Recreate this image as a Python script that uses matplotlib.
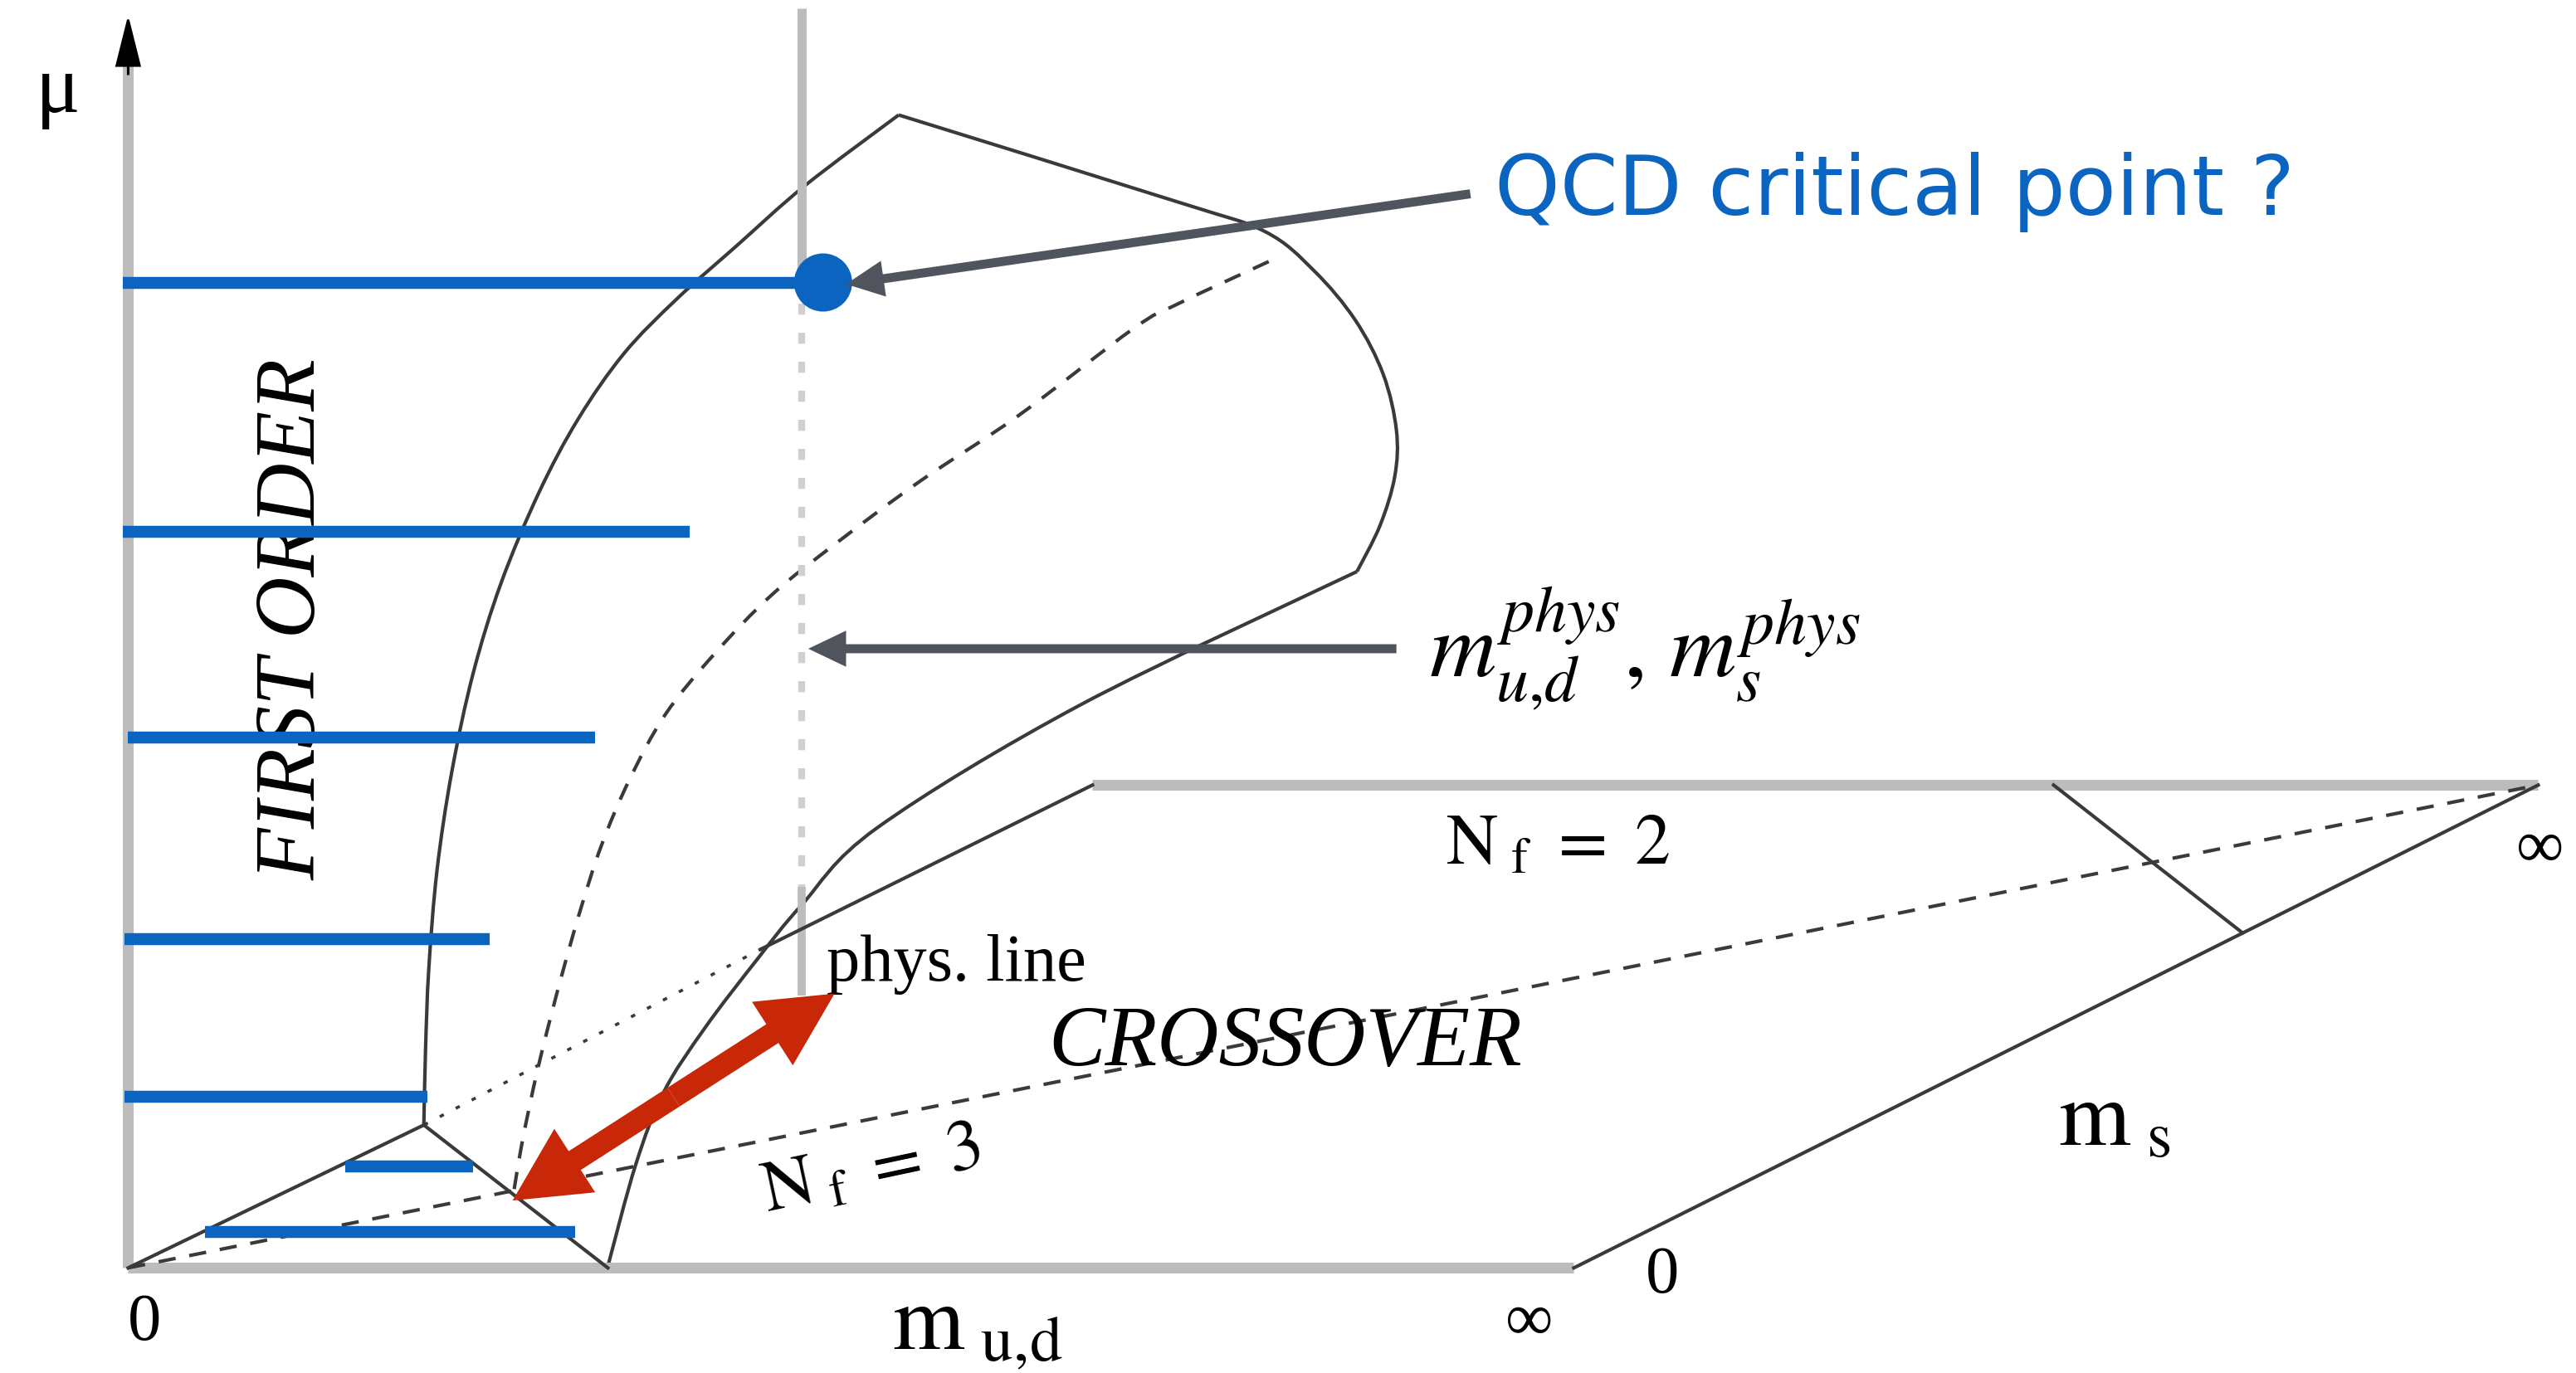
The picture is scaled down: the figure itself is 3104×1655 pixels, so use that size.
import matplotlib.pyplot as plt
from matplotlib.patches import FancyArrow, Circle, PathPatch
from matplotlib.path import Path

plt.rcParams['mathtext.fontset'] = 'stix'
SERIF = ['Liberation Serif', 'DejaVu Serif']

### diagram geometry (units of the 1568x836 canvas, y pointing down) ###
origin = (78, 772)
mud_inf = (958, 772)
ms_inf = (1545, 478)
ms_far = (665, 478)          # m_ud = 0, m_s = inf corner
mu_top = 12

tri_apex = (258, 685)
tri_right = (370, 772)
hidden_end = (463, 578)      # base-plane edge reappears here

# outer surface, left boundary (bottom -> top)
left_x = [258, 259, 261, 266, 275, 288, 305, 328, 352, 380, 412, 448, 490, 547]
left_y = [685, 640, 590, 530, 470, 410, 355, 300, 255, 215, 182, 150, 113, 70]
# outer surface, top / right boundary
top_x = [547, 717, 770, 800, 825, 842, 850, 849, 840, 826]
top_y = [70, 123, 141, 165, 195, 228, 262, 290, 320, 348]
# inner boundary (top right -> bottom)
inner_x = [826, 658, 534, 488, 461, 429, 404, 387, 370]
inner_y = [348, 429, 504, 551, 584, 626, 665, 709, 771]
# dashed critical curve
crit_x = [313, 317, 322, 328, 335, 343, 353, 366, 383, 405, 435, 470, 510, 560, 620, 690, 717, 775]
crit_y = [724, 700, 675, 648, 620, 590, 555, 515, 475, 435, 398, 362, 330, 293, 253, 200, 185, 158]
# tricritical line in the m_s plane
tric_x = [1250, 1365]
tric_y = [478, 568]

phys_x = 488
phys_bottom = 606
crit_point = (501, 172)

# hand-drawn blue strokes
stroke_y = [172, 324, 449, 572, 668, 710, 750]
stroke_x0 = [75, 75, 78, 76, 76, 210, 125]
stroke_x1 = [495, 420, 362, 298, 260, 288, 350]

GRAY = '#bcbcbc'
INK = '#3a3a3a'
BLUE = '#0a64c0'
RED = '#c82808'
ARROW = '#50545c'


def smooth(xs, ys):
    # bezier path passing through the given points
    pts = list(zip(xs, ys))
    verts = [pts[0]]
    codes = [Path.MOVETO]
    for i in range(len(pts) - 1):
        p0 = pts[i - 1] if i > 0 else pts[i]
        p1 = pts[i]
        p2 = pts[i + 1]
        p3 = pts[i + 2] if i + 2 < len(pts) else pts[i + 1]
        c1 = (p1[0] + (p2[0] - p0[0]) / 6, p1[1] + (p2[1] - p0[1]) / 6)
        c2 = (p2[0] - (p3[0] - p1[0]) / 6, p2[1] - (p3[1] - p1[1]) / 6)
        verts += [c1, c2, p2]
        codes += [Path.CURVE4] * 3
    return Path(verts, codes)


fig = plt.figure(figsize=(15.52, 8.275), dpi=200)
ax = fig.add_axes([0, 0, 1, 1])
ax.set_xlim(0, 1568)
ax.set_ylim(836, 0)
ax.axis('off')

# axes (gray)
ax.plot([origin[0], origin[0]], [origin[1], mu_top + 20], color=GRAY, lw=4.7, solid_capstyle='butt')
ax.plot([origin[0], mud_inf[0]], [origin[1], mud_inf[1]], color=GRAY, lw=4.7, solid_capstyle='butt')
ax.plot([ms_far[0], ms_inf[0]], [ms_far[1], ms_inf[1]], color=GRAY, lw=4.7, solid_capstyle='butt')
ax.add_patch(FancyArrow(origin[0], 45, 0, -(45 - mu_top), width=0.1, head_width=14,
                        head_length=28, length_includes_head=True, color='black', zorder=3))

# physical line
ax.plot([phys_x, phys_x], [5, crit_point[1]], color=GRAY, lw=4, solid_capstyle='butt')
ax.plot([phys_x, phys_x], [185, 540], color='#d0d0d0', lw=3, linestyle=(0, (1.6, 2.6)))
ax.plot([phys_x, phys_x], [540, phys_bottom], color=GRAY, lw=3.5, solid_capstyle='butt')

# base plane edges
ax.plot([mud_inf[0], ms_inf[0]], [mud_inf[1], ms_inf[1]], color=INK, lw=1.5)
ax.plot([origin[0], tri_apex[0], tri_right[0]], [origin[1], tri_apex[1], tri_right[1]], color=INK, lw=1.5)
ax.plot([tri_apex[0], hidden_end[0]], [tri_apex[1], hidden_end[1]], color=INK, lw=1.3,
        linestyle=(0, (1.5, 4.5)))
ax.plot([hidden_end[0], ms_far[0]], [hidden_end[1], ms_far[1]], color=INK, lw=1.5)
ax.plot([origin[0], ms_inf[0]], [origin[1], ms_inf[1]], color=INK, lw=1.5, linestyle=(0, (5, 4)))
ax.plot(tric_x, tric_y, color=INK, lw=1.5)

# surfaces
for xs, ys, ls in [(left_x, left_y, '-'), (top_x, top_y, '-'), (inner_x, inner_y, '-'),
                   (crit_x, crit_y, (0, (5, 4)))]:
    ax.add_patch(PathPatch(smooth(xs, ys), facecolor='none', edgecolor=INK, lw=1.5, linestyle=ls))

# labels of the original figure
ax.text(35, 56, 'μ', fontsize=36, family=SERIF, ha='center', va='center')
ax.text(88, 806, '0', fontsize=29, family=SERIF, ha='center', va='center')
ax.text(543, 808, r'$\mathrm{m}_{\ \mathrm{u{,}d}}$', fontsize=40, ha='left', va='center')
ax.text(931, 806, '∞', fontsize=29, family=SERIF, ha='center', va='center')
ax.text(1012, 777, '0', fontsize=29, family=SERIF, ha='center', va='center')
ax.text(1253, 682, r'$\mathrm{m}_{\ \mathrm{s}}$', fontsize=40, ha='left', va='center')
ax.text(1546, 518, '∞', fontsize=29, family=SERIF, ha='center', va='center')
ax.text(880, 514, r'$\mathrm{N}_{\ \mathrm{f}}\ =\ 2$', fontsize=31, ha='left', va='center')
ax.text(530, 712, r'$\mathrm{N}_{\ \mathrm{f}}\ =\ 3$', fontsize=31, ha='center', va='center',
        rotation=12, rotation_mode='anchor')
ax.text(638, 636, 'CROSSOVER', fontsize=37, family=SERIF, style='italic', ha='left', va='center')
ax.text(503, 597, 'phys. line', fontsize=29, family=SERIF, ha='left', va='baseline')
ax.text(179, 377, 'FIRST ORDER', fontsize=37, family=SERIF, style='italic', ha='center',
        va='center', rotation=90)

# annotations
for y, x0, x1 in zip(stroke_y, stroke_x0, stroke_x1):
    ax.plot([x0, x1], [y, y], color=BLUE, lw=5.2, solid_capstyle='butt', zorder=4)
ax.add_patch(Circle(crit_point, 17, color=BLUE, zorder=5))

ax.add_patch(FancyArrow(895, 118, 515 - 895, 173 - 118, width=5.5, head_width=22, head_length=23,
                        length_includes_head=True, color=ARROW, lw=0, zorder=6))
ax.add_patch(FancyArrow(850, 395, 492 - 850, 0, width=5.5, head_width=22, head_length=23,
                        length_includes_head=True, color=ARROW, lw=0, zorder=6))
ax.text(910, 117, 'QCD critical point ?', fontsize=36, color=BLUE, ha='left', va='center')
ax.text(870, 395, r'$m^{phys}_{u{,}d}{,}\ m^{phys}_{s}$', fontsize=40, ha='left', va='center')

# red double arrow
red_a = (312, 731)
red_b = (508, 605)
mid = ((red_a[0] + red_b[0]) / 2, (red_a[1] + red_b[1]) / 2)
for tip in (red_a, red_b):
    ax.add_patch(FancyArrow(mid[0], mid[1], tip[0] - mid[0], tip[1] - mid[1], width=13.6,
                            head_width=46, head_length=45, length_includes_head=True,
                            color=RED, lw=0, zorder=7))

plt.savefig('out.png', dpi=200)
